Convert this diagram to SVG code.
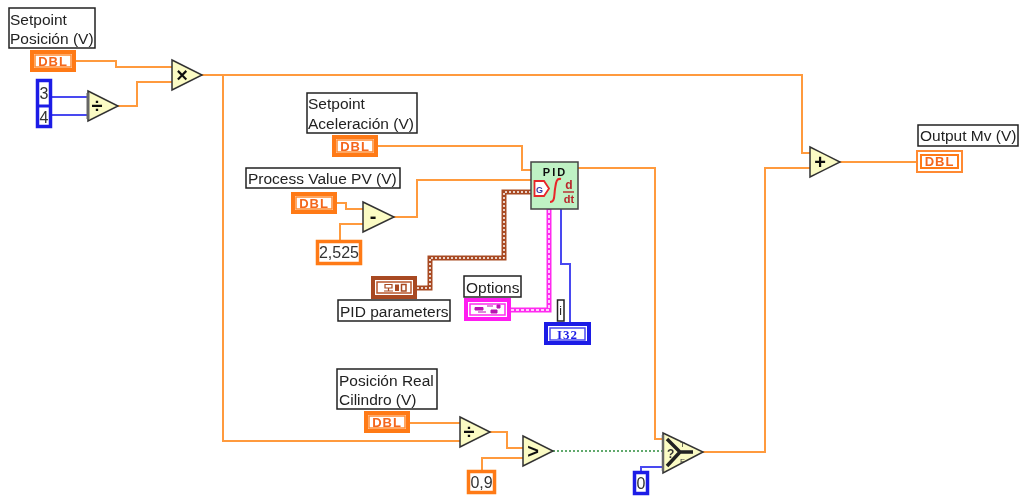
<svg xmlns="http://www.w3.org/2000/svg" width="1023" height="497" viewBox="0 0 1023 497">
<style>
text{font-family:"Liberation Sans",Arial,sans-serif}
.lbl rect{fill:#fff;stroke:#222;stroke-width:1.5}
.lbl text{font-size:15.500px;fill:#222}
.tri{fill:#fbfbc4;stroke:#333;stroke-width:1.5}
.sym{font-size:20px;font-weight:bold;fill:#111;text-anchor:middle}
.o{fill:none;stroke:#ff9a3c;stroke-width:2}
.b{fill:none;stroke:#4a4af0;stroke-width:2}
.box{fill:#fff;stroke-width:4}
.inner{fill:#fff;stroke-width:1.5}
.dbl{font-size:13px;font-weight:bold;fill:#f4661a;text-anchor:middle;letter-spacing:1px}
.num{font-size:16px;fill:#333;text-anchor:middle}
</style>
<defs>
<filter id="soft" x="0" y="0" width="100%" height="100%" filterUnits="userSpaceOnUse" primitiveUnits="userSpaceOnUse"><feGaussianBlur stdDeviation="0.35"/></filter>
<g id="dblT"><rect class="box" x="2" y="2" width="42" height="18" stroke="#ff7a14"/><rect class="inner" x="5" y="5" width="36" height="12" stroke="#ff8a30"/><text class="dbl" x="23" y="15.500">DBL</text></g>
<g id="dblI"><rect x="1" y="1" width="45" height="21" fill="#fff" stroke="#ff8a30" stroke-width="2"/><rect x="5" y="5" width="37" height="13" fill="#fff" stroke="#ff7a14" stroke-width="2"/><text class="dbl" x="23.500" y="16">DBL</text></g>
</defs>
<g filter="url(#soft)">
<g id="connectors">
<path class="o" d="M76 61H116V67H172"/>
<path class="b" d="M51 97H88M51 115H88"/>
<path class="o" d="M118 106H137V82H172"/>
<path class="o" d="M202 75H802V153H810"/>
<path class="o" d="M223 75V441H460"/>
<path class="o" d="M378 146H522V170H531"/>
<path class="o" d="M337 203H346V209H363"/>
<path class="o" d="M340 240V224H363"/>
<path class="o" d="M394 217H417V180H531"/>
<path fill="none" stroke="#a84a22" stroke-width="5" d="M417 288H430V258H504V192H531"/>
<path fill="none" stroke="#fff" stroke-width="1.500" stroke-dasharray="2 2" d="M417 288H430V258H504V192H531"/>
<path fill="none" stroke="#ff2cf0" stroke-width="5" d="M511 310H549V209"/>
<path fill="none" stroke="#fff" stroke-width="1.500" stroke-dasharray="3 2" d="M511 310H549V209"/>
<path class="b" d="M561 209V264H570V322"/>
<path class="o" d="M578 168H655V439H663"/>
<path class="o" d="M410 423H460"/>
<path class="o" d="M490 432H507V448H523"/>
<path class="o" d="M482 470V458H523"/>
<path fill="none" stroke="#2f8f3f" stroke-width="1.500" stroke-dasharray="2 2" d="M553 451H663"/>
<path class="b" d="M641 471V467H663"/>
<path class="o" d="M703 452H765V168H810"/>
<path class="o" d="M840 162H916"/>
</g>
<g id="setpoint-posicion" class="lbl"><rect x="9" y="8" width="86" height="40"/><text x="10" y="25">Setpoint</text><text x="10" y="44">Posición (V)</text></g>
<use id="setpoint-posicion-term" href="#dblT" x="30" y="50"/>
<g id="const-3-4"><rect x="37.500" y="80.500" width="13" height="46" fill="#fff" stroke="#1f1fe6" stroke-width="3.500"/><path d="M37 106H51" stroke="#1f1fe6" stroke-width="3"/><text class="num" x="44" y="99">3</text><text class="num" x="44" y="123">4</text></g>
<g id="divide-1"><path class="tri" d="M88 91L118 106L88 121Z"/><path d="M88 93V119" stroke="#666" stroke-width="3"/><text class="sym" x="97" y="113">÷</text></g>
<g id="multiply"><path class="tri" d="M172 60L202 75L172 90Z"/><text class="sym" x="182" y="82">×</text></g>
<g id="setpoint-aceleracion" class="lbl"><rect x="307" y="93" width="110" height="40"/><text x="308" y="109">Setpoint</text><text x="308" y="129">Aceleración (V)</text></g>
<use id="setpoint-aceleracion-term" href="#dblT" x="332" y="135"/>
<g id="process-value" class="lbl"><rect x="246" y="168" width="154" height="20"/><text x="248" y="184">Process Value PV (V)</text></g>
<use id="process-value-term" href="#dblT" x="291" y="192"/>
<g id="const-2525"><rect x="317.500" y="241.500" width="43" height="22" fill="#fff" stroke="#ff7a14" stroke-width="3.500"/><text class="num" x="339" y="258">2,525</text></g>
<g id="subtract"><path class="tri" d="M363 202L394 217L363 232Z"/><text class="sym" x="373" y="223">-</text></g>
<g id="pid">
<rect x="531" y="162" width="47" height="47" fill="#bff2c4" stroke="#444" stroke-width="1.500"/>
<text x="555" y="176" font-size="11" font-weight="bold" fill="#111" text-anchor="middle" letter-spacing="2">PID</text>
<path d="M534.500 181H544L549 188.500L544 196H534.500Z" fill="#fff" stroke="#e8262a" stroke-width="1.800"/>
<text x="539.500" y="192.500" font-size="9" font-weight="bold" fill="#3a3aa8" text-anchor="middle">G</text>
<path d="M550 202C555 202 554 196 555 189C556 183 556 178 561 179" fill="none" stroke="#e8262a" stroke-width="2"/>
<text x="569" y="189" font-size="12" font-weight="bold" fill="#b8262a" text-anchor="middle">d</text>
<path d="M563 192H574" stroke="#b8262a" stroke-width="1.400"/>
<text x="569" y="203" font-size="11" font-weight="bold" fill="#b8262a" text-anchor="middle">dt</text>
</g>
<g id="pid-parameters">
<rect x="373" y="278" width="42" height="19" fill="#fff" stroke="#a84a22" stroke-width="4"/>
<rect x="377" y="282" width="34" height="11" fill="#fff" stroke="#b8562a" stroke-width="1.500"/>
<path d="M385 284.500H392V288H385ZM388.500 288V291M384 291H393" fill="none" stroke="#a84a22" stroke-width="1.200"/><rect x="395" y="284.500" width="4" height="6.500" fill="#a84a22"/><rect x="401.500" y="284.500" width="4.500" height="6.500" fill="none" stroke="#a84a22" stroke-width="1.500"/>
</g>
<g id="pid-parameters-label" class="lbl"><rect x="338" y="300" width="112" height="21"/><text x="340" y="317">PID parameters</text></g>
<g id="options-label" class="lbl"><rect x="464" y="276" width="57" height="21"/><text x="466" y="293">Options</text></g>
<g id="options">
<rect x="466" y="300" width="43" height="19" fill="#fff" stroke="#ff1cf0" stroke-width="4"/>
<rect x="470" y="304" width="35" height="11" fill="#fff" stroke="#ff2cf0" stroke-width="1.500"/>
<path d="M475 307.500H483V310H475ZM487 306H493M478 312H486M491 310H497V313H491ZM497 305H500V308H497Z" fill="#b818b0" stroke="#b818b0" stroke-width="1"/>
</g>
<g id="index-label" class="lbl"><rect x="557.500" y="300" width="6.500" height="21"/><text x="559.200" y="315" style="font-size:12px">i</text></g>
<g id="i32">
<rect x="546" y="324" width="43" height="19" fill="#fff" stroke="#1f1fe6" stroke-width="4"/>
<rect x="550" y="328" width="35" height="12" fill="#fff" stroke="#4a4af0" stroke-width="1.500"/>
<text x="567.500" y="339" font-size="13" font-weight="bold" fill="#1f1fe6" text-anchor="middle" letter-spacing="1" style="font-family:'Liberation Serif',serif">I32</text>
</g>
<g id="posicion-real" class="lbl"><rect x="337" y="369" width="100" height="40"/><text x="339" y="386">Posición Real</text><text x="339" y="405">Cilindro (V)</text></g>
<use id="posicion-real-term" href="#dblT" x="364" y="411"/>
<g id="divide-2"><path class="tri" d="M460 417L490 432L460 447Z"/><text class="sym" x="469" y="439">÷</text></g>
<g id="greater"><path class="tri" d="M523 436L553 451L523 466Z"/><text class="sym" x="533" y="458">&gt;</text></g>
<g id="const-09"><rect x="468.500" y="471.500" width="26" height="21" fill="#fff" stroke="#ff7a14" stroke-width="3.500"/><text class="num" x="481.500" y="488">0,9</text></g>
<g id="select">
<path class="tri" d="M663 433L703 452L663 473Z"/>
<path d="M663 435V471" stroke="#666" stroke-width="2.500"/>
<path d="M667 439L680 452L667 466M680 452H693" fill="none" stroke="#222" stroke-width="3.500"/>
<text x="667" y="458" font-size="12" font-weight="bold" fill="#333">?</text>
<text x="680" y="447" font-size="8" fill="#333">T</text>
<text x="680" y="464" font-size="8" fill="#333">F</text>
</g>
<g id="const-0"><rect x="634.500" y="472.500" width="13" height="21" fill="#fff" stroke="#1f1fe6" stroke-width="3.500"/><text class="num" x="641" y="489">0</text></g>
<g id="add"><path class="tri" d="M810 147L840 162L810 177Z"/><text class="sym" x="820" y="169">+</text></g>
<g id="output-label" class="lbl"><rect x="918" y="125" width="100" height="21"/><text x="920" y="141">Output Mv (V)</text></g>
<use id="output-term" href="#dblI" x="916" y="150"/>
</g>
</svg>
